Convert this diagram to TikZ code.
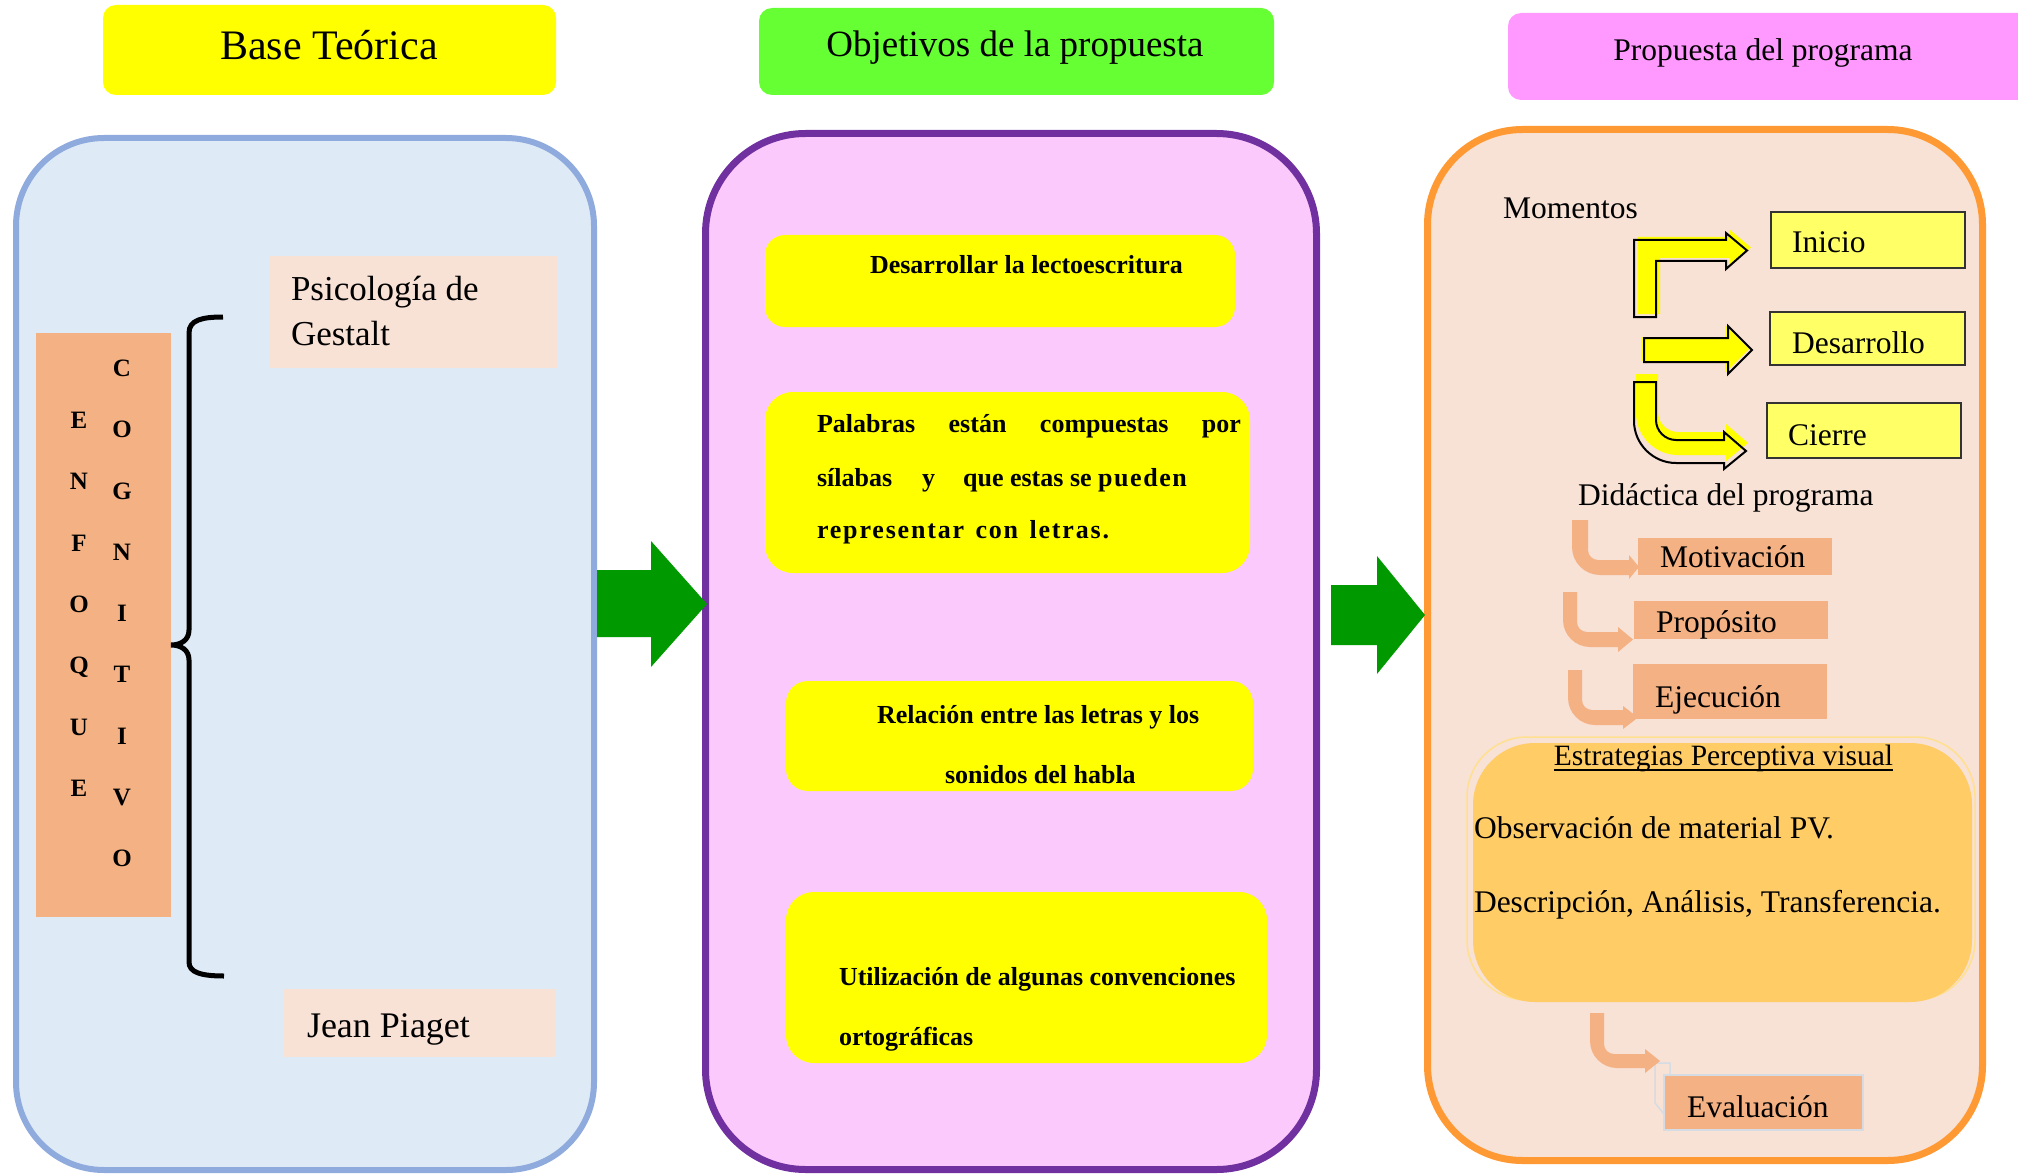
\documentclass[tikz,border=0pt]{standalone}
\usepackage{fontspec}
\setmainfont{Liberation Serif}
\definecolor{blueF}{HTML}{DEEBF7}
\definecolor{blueB}{HTML}{8FAADC}
\definecolor{purF}{HTML}{FCC9FC}
\definecolor{purB}{HTML}{7030A0}
\definecolor{orF}{HTML}{F8E1D5}
\definecolor{orB}{HTML}{FF9933}
\definecolor{hYellow}{HTML}{FFFF00}
\definecolor{hGreen}{HTML}{66FF33}
\definecolor{hPink}{HTML}{FF99FF}
\definecolor{salmon}{HTML}{F4B183}
\definecolor{peach}{HTML}{F8E1D5}
\definecolor{mYellow}{HTML}{FFFF66}
\definecolor{estF}{HTML}{FFCC66}
\definecolor{estB}{HTML}{FFE08F}
\definecolor{grayB}{HTML}{D6DCE4}
\definecolor{arrGreen}{HTML}{009900}
\tikzset{
  plain/.style={inner sep=0pt, outer sep=0pt},
  hdr/.style={plain, rounded corners=13pt},
  hdrtxt/.style={plain, anchor=base},
  panel/.style={plain},
  fbox/.style={plain, draw=none},
  ybox/.style={plain, fill=hYellow},
  mbox/.style={plain, fill=mYellow, draw=black!80, line width=1.5pt},
  sbox/.style={plain, fill=salmon},
  txt/.style={plain, anchor=base west, font=\fontsize{31.5}{38}\selectfont},
  btxt/.style={plain, anchor=base west, font=\bfseries\fontsize{26}{31}\selectfont},
  letter/.style={plain, anchor=base, font=\bfseries\fontsize{25}{30}\selectfont},
  yout/.style={draw=black, line width=2pt, line join=miter},
  sarrow/.style={fill=salmon},
  garrow/.style={fill=arrGreen}
}
\begin{document}
\begin{tikzpicture}[x=1pt,y=-1pt]
\useasboundingbox (0,0) rectangle (2018,1174);

% ---------- headers ----------
\node[hdr, fill=hYellow, minimum width=453pt, minimum height=90pt] (hBase) at (329.5,50) {};
\node[hdrtxt, font=\fontsize{42}{50}\selectfont] (tBase) at (329,60) {Base Teórica};
\node[hdr, fill=hGreen, minimum width=515pt, minimum height=87pt] (hObj) at (1016.5,51.5) {};
\node[hdrtxt, font=\fontsize{37}{44}\selectfont] (tObj) at (1015,57) {Objetivos de la propuesta};
\node[hdr, fill=hPink, minimum width=530pt, minimum height=87pt] (hProp) at (1773,56.5) {};
\node[hdrtxt, font=\fontsize{31.5}{38}\selectfont] (tProp) at (1763,61) {Propuesta del programa};

% ---------- panels ----------
\node[panel, draw=blueB, fill=blueF, line width=6pt, rounded corners=88pt, minimum width=578pt, minimum height=1032pt] (P1) at (305,654) {};
\node[panel, draw=purB, fill=purF, line width=7pt, rounded corners=100pt, minimum width=611pt, minimum height=1036pt] (P2) at (1011,651.5) {};
\node[panel, draw=orB, fill=orF, line width=7pt, rounded corners=95pt, minimum width=555pt, minimum height=1031pt] (P3) at (1705,645) {};

% ---------- green arrows between panels ----------
\fill[garrow] (597,570) -- (651,570) -- (651,541) -- (707,604) -- (651,667) -- (651,637) -- (597,637) -- cycle;
\fill[garrow] (1331,585) -- (1377,585) -- (1377,556) -- (1425,615) -- (1377,674) -- (1377,645) -- (1331,645) -- cycle;

% ---------- left panel ----------
\node[fbox, fill=salmon, minimum width=135pt, minimum height=584pt] (enf) at (103.5,625) {};
\foreach \l [count=\i from 0] in {E,N,F,O,Q,U,E}
  \node[letter] (le\i) at (79, 428.5+61.3*\i) {\l};
\foreach \l [count=\i from 0] in {C,O,G,N,I,T,I,V,O}
  \node[letter] (lc\i) at (122, 376.5+61.25*\i) {\l};

\draw[line width=5pt] (223,317) .. controls (202,317) and (189,320) .. (189,333) -- (189,630)
  .. controls (189,640) and (181,645) .. (171,645)
  .. controls (181,645) and (189,650) .. (189,660) -- (189,962)
  .. controls (189,972) and (200,976) .. (224,976);

\node[fbox, fill=peach, minimum width=287pt, minimum height=112pt] (psi) at (413.5,312) {};
\node[txt, font=\fontsize{35}{42}\selectfont] (psi1) at (291,301) {Psicología de};
\node[txt, font=\fontsize{35}{42}\selectfont] (psi2) at (291,345) {Gestalt};
\node[fbox, fill=peach, minimum width=272pt, minimum height=68pt] (jp) at (420,1023) {};
\node[txt, font=\fontsize{36}{42}\selectfont] (jpt) at (307,1037) {Jean Piaget};

% ---------- middle panel ----------
\node[ybox, minimum width=470pt, minimum height=92pt, rounded corners=20pt] (y1) at (1000,281) {};
\node[btxt] (y1t) at (870,273) {Desarrollar la lectoescritura};
\node[ybox, minimum width=485pt, minimum height=181pt, rounded corners=28pt] (y2) at (1007.5,482.5) {};
\node[btxt] (y2a) at (817,432) {\makebox[424pt][s]{Palabras están compuestas por}};
\node[btxt] (y2b) at (817,486) {sílabas\hspace{30pt}y\hspace{28pt}que estas se {\addfontfeature{LetterSpace=6}pueden}};
\node[btxt] (y2c) at (817,538) {\addfontfeature{LetterSpace=7}\makebox[292pt][s]{representar con letras.}};
\node[ybox, minimum width=467pt, minimum height=110pt, rounded corners=22pt] (y3) at (1019.5,736) {};
\node[btxt] (y3a) at (877,723) {Relación entre las letras y los};
\node[btxt] (y3b) at (945,783) {sonidos del habla};
\node[ybox, minimum width=481pt, minimum height=171pt, rounded corners=28pt] (y4) at (1026.5,977.5) {};
\node[btxt] (y4a) at (839,985) {Utilización de algunas convenciones};
\node[btxt] (y4b) at (839,1045) {ortográficas};

% ---------- right panel ----------
\node[txt] (mom) at (1503,219) {Momentos};
\node[mbox, minimum width=194pt, minimum height=56pt] (ini) at (1868,240) {};
\node[txt] (init) at (1792,253) {Inicio};
\node[mbox, minimum width=195pt, minimum height=53pt] (des) at (1867.5,338.5) {};
\node[txt] (dest) at (1792,353) {Desarrollo};
\node[mbox, minimum width=194pt, minimum height=55pt] (cie) at (1864,430.5) {};
\node[txt] (ciet) at (1788,445) {Cierre};

% yellow block arrows
\fill[hYellow, shift={(4,-3)}] (1634,317) -- (1634,240) -- (1726,240) -- (1726,233) -- (1747,250.5) -- (1726,269) -- (1726,261) -- (1656,261) -- (1656,317) -- cycle;
\draw[yout] (1634,317) -- (1634,240) -- (1726,240) -- (1726,233) -- (1747,250.5) -- (1726,269) -- (1726,261) -- (1656,261) -- (1656,317) -- cycle;
\fill[hYellow, shift={(-3,-1)}] (1644,338) -- (1728,338) -- (1728,326) -- (1752,350) -- (1728,374) -- (1728,362) -- (1644,362) -- cycle;
\draw[yout] (1644,338) -- (1728,338) -- (1728,326) -- (1752,350) -- (1728,374) -- (1728,362) -- (1644,362) -- cycle;
\fill[hYellow, shift={(2,-8)}] (1634,382) -- (1656,382) -- (1656,420) .. controls (1656,431) and (1665,440) .. (1676,440) -- (1724,440) -- (1724,432) -- (1746,451) -- (1724,469) -- (1724,463) -- (1676,463) .. controls (1653,463) and (1634,444) .. (1634,421) -- cycle;
\draw[yout] (1634,382) -- (1656,382) -- (1656,420) .. controls (1656,431) and (1665,440) .. (1676,440) -- (1724,440) -- (1724,432) -- (1746,451) -- (1724,469) -- (1724,463) -- (1676,463) .. controls (1653,463) and (1634,444) .. (1634,421) -- cycle;

\node[txt] (did) at (1578,505) {Didáctica del programa};

% salmon bent arrows
\fill[sarrow] (1572,520) -- (1588,520) -- (1588,550) .. controls (1588,555.5) and (1592.5,560) .. (1598,560) -- (1629,560) -- (1629,555) -- (1639,567) -- (1629,579) -- (1629,575) -- (1600,575) .. controls (1584.6,575) and (1572,562.4) .. (1572,547) -- cycle;
\fill[sarrow] (1563,592) -- (1577,592) -- (1577,622) .. controls (1577,627.5) and (1581.5,632) .. (1587,632) -- (1618,632) -- (1618,627) -- (1633,639.5) -- (1618,652) -- (1618,647) -- (1590,647) .. controls (1575.2,647) and (1563,634.8) .. (1563,620) -- cycle;
\fill[sarrow] (1568,670) -- (1582,670) -- (1582,700) .. controls (1582,705.5) and (1586.5,710) .. (1592,710) -- (1623,710) -- (1623,706) -- (1638,717.5) -- (1623,729) -- (1623,725) -- (1595,725) .. controls (1580.2,725) and (1568,712.8) .. (1568,698) -- cycle;

\node[sbox, minimum width=194pt, minimum height=37pt] (mot) at (1735,556.5) {};
\node[txt] (mott) at (1660,567) {Motivación};
\node[sbox, minimum width=194pt, minimum height=38pt] (pro) at (1731,620) {};
\node[txt] (prot) at (1656,632) {Propósito};
\node[sbox, minimum width=194pt, minimum height=55pt] (eje) at (1730,691.5) {};
\node[txt] (ejet) at (1655,707) {Ejecución};

% estrategias box
\node[panel, draw=estB, line width=1.5pt, rounded corners=60pt, minimum width=508pt, minimum height=263pt] (estO) at (1721,868.5) {};
\node[panel, fill=estF, rounded corners=62pt, minimum width=499pt, minimum height=259pt] (est) at (1722.5,872.5) {};
\node[plain, anchor=base, font=\fontsize{29.5}{36}\selectfont] (estT) at (1723.5,765) {Estrategias Perceptiva visual};
\draw[line width=1.4pt] ([yshift=-5pt]estT.base west) -- ([yshift=-5pt]estT.base east);
\node[txt] (obs) at (1474,838) {Observación de material PV.};
\node[txt] (dsc) at (1474,912) {Descripción, Análisis, Transferencia.};

% evaluacion
\draw[grayB, line width=1.5pt] (1670,1075) -- (1670,1063) -- (1655,1063) -- (1655,1103) -- (1664,1114);
\fill[sarrow] (1590,1013) -- (1604,1013) -- (1604,1044) .. controls (1604,1049.5) and (1608.5,1054) .. (1614,1054) -- (1645,1054) -- (1645,1049) -- (1660,1061) -- (1645,1073) -- (1645,1068) -- (1617,1068) .. controls (1602.2,1068) and (1590,1055.8) .. (1590,1041) -- cycle;
\node[sbox, draw=grayB, line width=1.5pt, minimum width=199pt, minimum height=55pt] (eva) at (1763.5,1102.5) {};
\node[txt] (evat) at (1687,1117) {Evaluación};
\end{tikzpicture}
\end{document}
